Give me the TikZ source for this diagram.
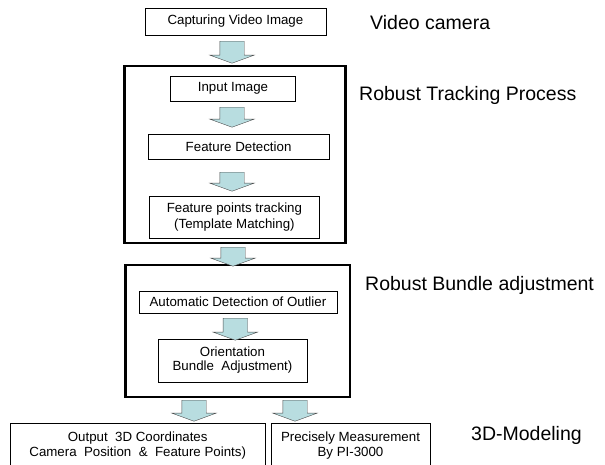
\documentclass[tikz,border=0pt]{standalone}
\usepackage{fontspec}
\setmainfont{Liberation Sans}
\usetikzlibrary{shapes.arrows}
\definecolor{arrowfill}{RGB}{184,221,224}

\begin{document}
\begin{tikzpicture}[x=1pt,y=-1pt,
    every node/.style={font=\fontsize{13.3}{15}\selectfont},
    stepbox/.style={draw,thin,inner sep=0pt,align=center},
    groupbox/.style={draw,line width=2.5pt,inner sep=0pt},
    sidetext/.style={anchor=west,inner sep=0pt,font=\fontsize{19.5}{22}\selectfont},
    fatarrow/.style={single arrow,draw=gray!60!black,fill=arrowfill,rotate=-90,inner xsep=0pt,inner ysep=12pt,
        single arrow head extend=10pt,single arrow tip angle=140}]
    \useasboundingbox (0,0) rectangle (605,465);
    \clip (0,0) rectangle (605,465);

    % camera
    \node[stepbox,minimum width=181,minimum height=27] (cap) at (235.4,21.5) {Capturing Video Image};
    \node[sidetext] (camlbl) at (370,23) {Video camera};

    % tracking
    \node[groupbox,minimum width=220.7,minimum height=177] (track) at (235,154.5) {};
    \node[stepbox,minimum width=125,minimum height=25] (inp) at (233,88.5) {Input Image};
    \node[stepbox,minimum width=181,minimum height=25] (det) at (238.6,146.5) {Feature Detection};
    \node[stepbox,minimum width=170,minimum height=42,font=\fontsize{13.3}{16}\selectfont] (trk) at (234.4,217)
        {Feature points tracking\\(Template Matching)};
    \node[sidetext] (tracklbl) at (359,95) {Robust Tracking Process};

    % bundle adjustment
    \node[groupbox,minimum width=224.6,minimum height=132] (bundle) at (237.7,331) {};
    \node[stepbox,minimum width=198,minimum height=22] (outl) at (237.9,302) {Automatic Detection of Outlier};
    \node[stepbox,minimum width=148.5,minimum height=43,font=\fontsize{13.3}{14}\selectfont] (ori) at (232.5,360.5)
        {Orientation\\Bundle\ \ Adjustment)};
    \node[sidetext] (bundlelbl) at (365,285) {Robust Bundle adjustment};

    % results
    \node[stepbox,minimum width=255.5,minimum height=46] (res) at (137.7,446) {};
    \node[stepbox,minimum width=159,minimum height=46] (meas) at (350.5,446) {};
    \node[align=center,font=\fontsize{13.3}{15}\selectfont] (restxt) at (137.7,445.5)
        {Output\ \ 3D Coordinates\\Camera\ \ Position\ \ \&\ \ Feature Points)};
    \node[align=center,font=\fontsize{13.3}{15}\selectfont] (meastxt) at (350.5,445.5)
        {Precisely Measurement\\By PI-3000};
    \node[sidetext] (modellbl) at (471,435) {3D-Modeling};

    % flow arrows
    \node[fatarrow,minimum height=22] (a1) at (232,50) {};
    \node[fatarrow,minimum height=20] (a2) at (232,115) {};
    \node[fatarrow,minimum height=19] (a3) at (232,179.5) {};
    \node[fatarrow,minimum height=19] (a4) at (233,254.5) {};
    \node[fatarrow,minimum height=22] (a5) at (235.3,327) {};
    \node[fatarrow,minimum height=21] (a6) at (194,408.5) {};
    \node[fatarrow,minimum height=21] (a7) at (295,408.5) {};
\end{tikzpicture}
\end{document}
